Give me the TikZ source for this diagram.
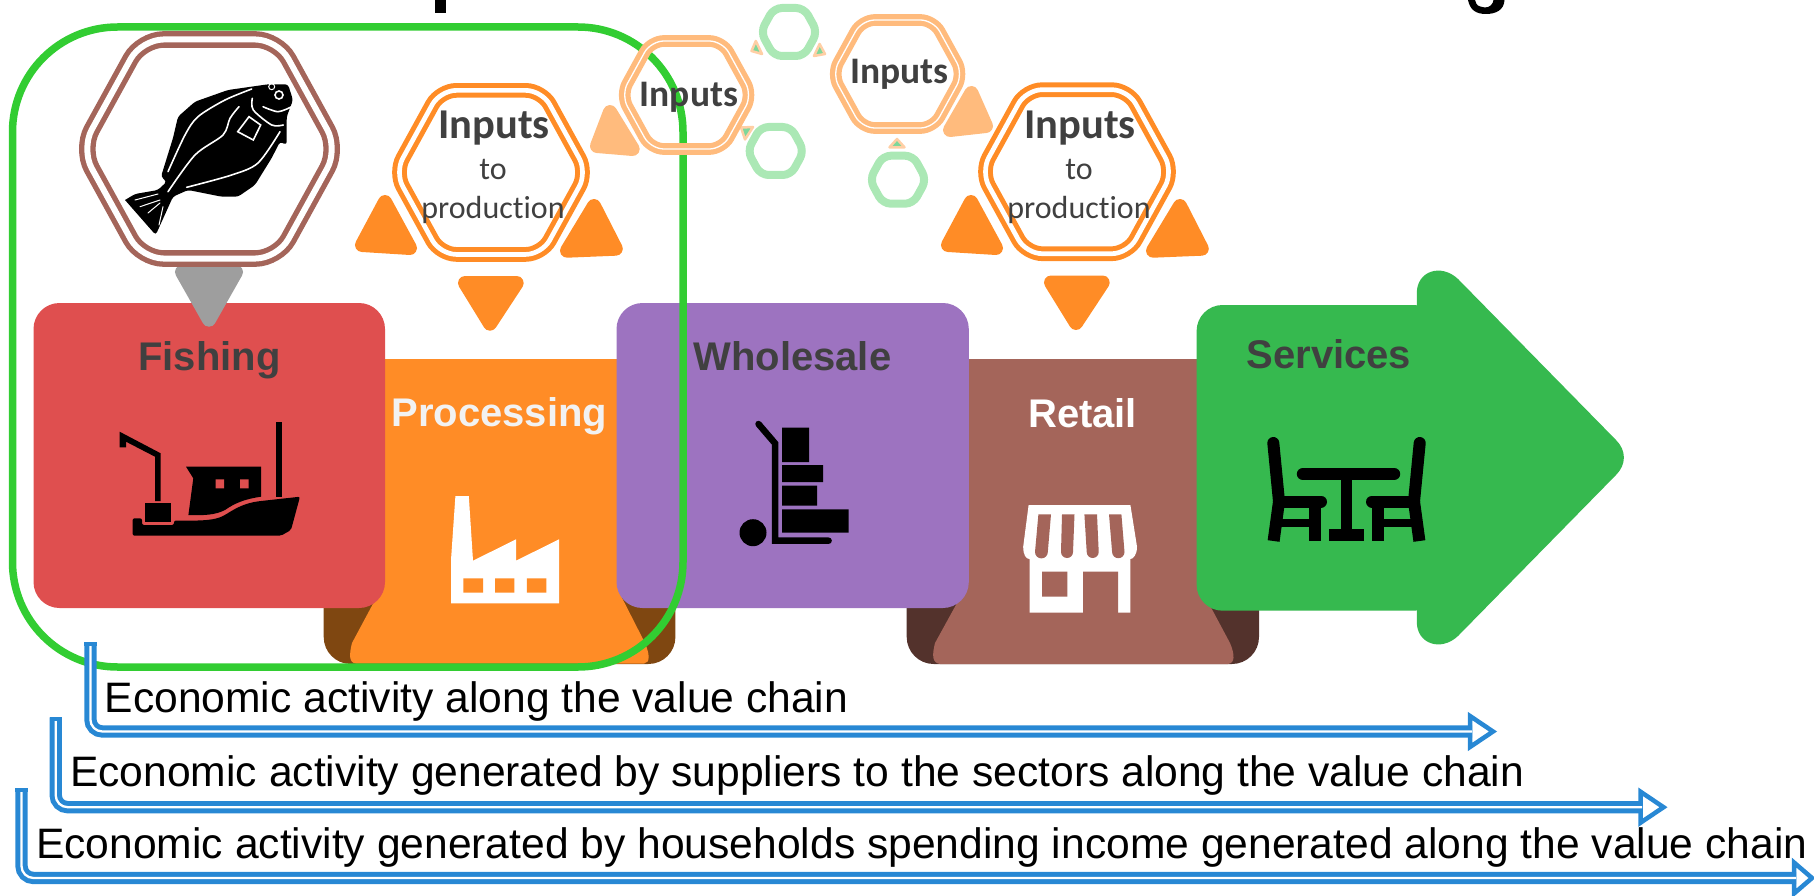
\documentclass[tikz,border=0pt]{standalone}
\usepackage{fontspec}
\setmainfont{Liberation Sans}
\newfontfamily\calfont[Ligatures=NoCommon]{Carlito}
\definecolor{cRed}{RGB}{223,79,79}
\definecolor{cOrange}{RGB}{255,140,38}
\definecolor{cLightOrange}{RGB}{255,187,125}
\definecolor{cPurple}{RGB}{157,115,192}
\definecolor{cBrown}{RGB}{164,101,90}
\definecolor{cDarkOrange}{RGB}{127,71,17}
\definecolor{cDarkBrown}{RGB}{83,50,44}
\definecolor{cGreen}{RGB}{54,185,79}
\definecolor{cFrame}{RGB}{50,205,50}
\definecolor{cLightGreen}{RGB}{171,232,181}
\definecolor{cSmallTri}{RGB}{127,215,154}
\definecolor{cTriEdge}{RGB}{255,207,165}
\definecolor{cBlue}{RGB}{40,136,212}
\definecolor{cText}{RGB}{64,64,64}
\definecolor{cPale}{RGB}{242,242,242}
\definecolor{cGrey}{RGB}{158,158,158}
\newcommand\rhex[6]{\draw[#6,rounded corners=#5]
 ({#1-(#3)},{#2}) -- ({#1-(#3)+0.55*(#4)},{#2-(#4)}) -- ({#1+(#3)-0.55*(#4)},{#2-(#4)}) -- ({#1+(#3)},{#2}) -- ({#1+(#3)-0.55*(#4)},{#2+(#4)}) -- ({#1-(#3)+0.55*(#4)},{#2+(#4)}) -- cycle;}
\newcommand\rtri[4]{\filldraw[#4,line width=14pt,line join=round] #1 -- #2 -- #3 -- cycle;}
\tikzset{
 x=1pt,y=-1pt,
 hexBrown/.style={draw=cBrown,line width=5.3pt,double=white,double distance=6pt},
 hexOrange/.style={draw=cOrange,line width=5pt,double=white,double distance=4.7pt},
 hexLight/.style={draw=cLightOrange,line width=5.2pt,double=white,double distance=1.3pt},
 hexGreen/.style={draw=cLightGreen,line width=8pt},
 smallTri/.style={draw=cTriEdge,fill=cSmallTri,line width=2.5pt,line join=round},
 headLab/.style={font=\fontsize{40}{44}\selectfont\bfseries,anchor=base,inner sep=0pt,text=cText},
 paleLab/.style={headLab,text=cPale},
 whiteLab/.style={headLab,text=white},
 bigIn/.style={font=\calfont\fontsize{42.5}{46}\selectfont\bfseries,anchor=base,inner sep=0pt,text=cText},
 smallIn/.style={font=\calfont\fontsize{37.5}{42}\selectfont\bfseries,anchor=base,inner sep=0pt,text=cText},
 thinIn/.style={font=\calfont\fontsize{32}{36}\selectfont,anchor=base,inner sep=0pt,text=cText},
 chainText/.style={font=\fontsize{42.6}{46}\selectfont,anchor=base west,inner sep=0pt,text=black},
 flowArrow/.style={draw=cBlue,line width=5pt,double=white,double distance=2.3pt,rounded corners=12pt},
 flowHead/.style={draw=cBlue,fill=white,line width=4.5pt,miter limit=10},
 frameBox/.style={draw=cFrame,line width=7.5pt,rounded corners=105pt},
 fishLine/.style={draw=white,line width=1.6pt,line cap=round},
 iconLine/.style={draw=black,line width=12pt,line cap=round},
 iconButt/.style={draw=black,line width=12pt,line cap=butt},
}
\begin{document}
\begin{tikzpicture}
\useasboundingbox (0,0) rectangle (1814,896);
\clip (0,0) rectangle (1814,896);
% title remnants
\fill[black] (435,0) rectangle (446,12.7);
\fill[black] (1468,0) -- (1475,0) .. controls (1477,6) .. (1485,7.5) .. controls (1490,7.5) and (1493,4) .. (1493.5,0) -- (1504.5,0) .. controls (1504,10) and (1496,14) .. (1486,14) .. controls (1476,14) and (1470,10) .. (1468,0) -- cycle;
% shadows under sector shapes
\fill[cDarkOrange,rounded corners=27pt] (323.7,560) rectangle (675.4,664);
\fill[cDarkBrown,rounded corners=27pt] (906.7,560) rectangle (1259,664);
% Processing shape
\fill[cOrange] (370,359) -- (625,359) -- (618,590) -- (645,643) .. controls (650,655) and (650,663) .. (644,663.5) -- (356,663.5) .. controls (349,663) and (349,655) .. (352,643) -- (375,600) -- cycle;
% Retail shape
\fill[cBrown] (950,359) -- (1205,359) -- (1207,600) -- (1230,643) .. controls (1235,655) and (1235,663) .. (1228,664) -- (940,664) .. controls (932,663) and (932,655) .. (935,643) -- (957,603) -- cycle;
% boxes
\fill[cRed,rounded corners=26pt] (33.5,303) rectangle (385,608);
\fill[cPurple,rounded corners=26pt] (616.5,303) rectangle (968.8,608);
% services arrow
\fill[cGreen,rounded corners=26pt] (1196.6,305) rectangle (1440,610.7);
\fill[cGreen] (1416.8,293) .. controls (1416.8,271) and (1441,263) .. (1458,279) -- (1616,440) .. controls (1626.5,450.5) and (1626.5,464.5) .. (1616,475) -- (1458,636) .. controls (1441,652) and (1416.8,644) .. (1416.8,622) -- cycle;
% orange triangles
\rtri{(385,202)}{(362,245)}{(410,248)}{cOrange}
\rtri{(594,206)}{(567,250.7)}{(615.8,248.7)}{cOrange}
\rtri{(465,283)}{(516.7,283)}{(490,323.7)}{cOrange}
\rtri{(971,202)}{(948,245)}{(996,248)}{cOrange}
\rtri{(1180,206)}{(1153,250.7)}{(1201.8,248.7)}{cOrange}
\rtri{(1051,282.5)}{(1102.7,282.5)}{(1076,323)}{cOrange}
\rtri{(182,272)}{(236,272)}{(209,319.7)}{cGrey}
\rtri{(610,112)}{(597,146)}{(632.7,149)}{cLightOrange}
\rtri{(971.4,93)}{(950,130)}{(986,126)}{cLightOrange}
% small triangles
\filldraw[smallTri] (755.8,41) -- (751.5,51) -- (762,54) -- cycle;
\filldraw[smallTri] (819.6,44) -- (825,54) -- (814,56) -- cycle;
\filldraw[smallTri] (741,127.5) -- (753,127) -- (745,139.5) -- cycle;
\filldraw[smallTri] (897,139) -- (889.5,147.3) -- (904.5,147.3) -- cycle;
% hexagons
\rhex{209.5}{149}{128.4}{109.5}{22pt}{hexBrown}
\rhex{491}{172.4}{96}{82}{16pt}{hexOrange}
\rhex{1077}{171.7}{96}{82}{16pt}{hexOrange}
\rhex{789}{32}{28.3}{24}{8pt}{hexGreen}
\rhex{775.7}{151}{28.3}{24}{8pt}{hexGreen}
\rhex{898}{179.7}{28.3}{24}{8pt}{hexGreen}
% fish
\fill[black,rounded corners=3pt] (268,84.3) -- (288,84.3) -- (293,100) -- (286.7,116.7) -- (286.7,145) -- (280,141.7) -- (271.7,158) -- (255,185) -- (238,196.7) -- (221.7,196.7) -- (188,190) -- (173,196.7) -- (155.7,235) [sharp corners] -- (125,200) [rounded corners=3pt] -- (135,194) -- (158,190) -- (166.7,181.7) -- (161,176.7) -- (173,138) -- (178,116.7) -- (195,101.7) -- (228,90) -- cycle;
\draw[fishLine] plot[smooth] coordinates {(168,171.7) (185,135) (198,116.7) (225,100) (251.7,89)};
\draw[fishLine] plot[smooth] coordinates {(168,191.7) (195,155) (223,135) (230,118.3) (239,106.7)};
\draw[fishLine] plot[smooth] coordinates {(186.7,187.3) (231.7,175) (258,163) (280,131.7)};
\draw[fishLine] plot[smooth] coordinates {(252.3,98.3) (253.3,110) (271.7,125) (283.3,125)};
\draw[fishLine] plot[smooth] coordinates {(263,106.7) (278,111.7) (291.7,106.7)};
\draw[fishLine] (249,116.7) -- (260.7,125) -- (253.3,140) -- (237.7,131.7) -- cycle;
\draw[white,line width=1.6pt] (279,95) circle[radius=4pt];
\draw[white,line width=1pt] (271.7,86.7) circle[radius=3pt];
\draw[fishLine,line width=1pt] (135,200) -- (158,194) (140,206.7) -- (160,200) (148,213) -- (160,203) (159,225) -- (163,206.7);
% ship
\fill[black,rounded corners=2pt] (132.6,518.3) -- (132.6,535.7) -- (281,535.7) -- (291,530) -- (300,496.7) -- (261,501) .. controls (245,503) and (236,508) .. (225,515) .. controls (215,520) and (205,521) .. (174,520.5) -- (174,525) -- (142,525) -- (142,518.3) -- cycle;
\fill[black] (186,466.7) -- (261,466.7) -- (261,496.7) .. controls (245,499) and (235,503) .. (225,510) .. controls (215,515) and (205,515.5) .. (188.4,515) -- (193.3,478.3) -- cycle;
\fill[cRed] (215.6,479.3) rectangle (224,488.3) (240,479.3) rectangle (248.7,488.3);
\fill[black] (145,503.3) rectangle (171.4,521.7);
\fill[black] (119.6,431.7) -- (160.7,453.3) -- (160.7,501) -- (155,501) -- (155,456.7) -- (126,441.7) -- (126,447.3) -- (119.6,447.3) -- cycle;
\fill[black] (276,422.3) rectangle (282,496.7);
% factory
\fill[white] (455.4,496) -- (468.8,496) -- (473,560.7) -- (516,539.3) -- (516,560.7) -- (559,539.3) -- (559,603.3) -- (451,603.3) -- (451,560) -- cycle;
\fill[cOrange] (463.4,578.3) rectangle (483,592.7) (495,578.3) rectangle (514.3,592.7) (526.8,578.3) rectangle (546.4,592.7);
% trolley
\fill[black] (782.1,427.7) rectangle (809,462) (782.1,465) rectangle (823.2,482) (782.1,485.7) rectangle (817,505.7) (782.1,509.3) rectangle (848.7,532.7);
\draw[black,line width=6.5pt,line cap=round,line join=miter] (758.5,424) -- (775,443.3) -- (775,540.7) -- (828.6,540.7);
\fill[black] (753,532.7) ellipse[x radius=13.5pt,y radius=13.5pt];
% store
\fill[white] (1028.6,505) -- (1130.4,505) -- (1137,546.7) .. controls (1137,555) and (1133,559) .. (1130.4,559) -- (1130.4,612.7) -- (1029.5,612.7) -- (1029.5,559) .. controls (1026,559) and (1023.2,555) .. (1023.2,546.7) -- cycle;
\fill[cBrown] (1038.4,514.3) -- (1051,514.3) -- (1047.8,552) arc[start angle=0,end angle=180,x radius=6.4pt,y radius=-6.4pt] -- cycle;
\fill[cBrown] (1062,514.3) -- (1074.5,514.3) -- (1073,552) arc[start angle=0,end angle=180,x radius=6pt,y radius=-6pt] -- cycle;
\fill[cBrown] (1084.4,514.3) -- (1097,514.3) -- (1098.7,552) arc[start angle=0,end angle=180,x radius=6pt,y radius=-6pt] -- cycle;
\fill[cBrown] (1109,514.3) -- (1121.4,514.3) -- (1124.5,552) arc[start angle=0,end angle=180,x radius=6.2pt,y radius=-6.2pt] -- cycle;
\fill[cBrown] (1083,571.7) rectangle (1118,614) (1042,571.7) rectangle (1067.4,596.7);
% table and chairs
\draw[iconLine] (1273.3,443) -- (1279,501.5);
\draw[iconButt] (1279,501.5) -- (1273.6,541);
\draw[iconLine] (1279,501.5) -- (1321,501.5);
\draw[iconButt] (1315,505) -- (1315,541);
\fill[black] (1281,519.3) rectangle (1310,527.3);
\draw[iconLine] (1419.7,443) -- (1414,501.5);
\draw[iconButt] (1414,501.5) -- (1419.4,541);
\draw[iconLine] (1414,501.5) -- (1372,501.5);
\draw[iconButt] (1378,505) -- (1378,541);
\fill[black] (1383,519.3) rectangle (1412,527.3);
\draw[iconLine,line width=12.4pt] (1303,474) -- (1394,474);
\fill[black] (1340.6,478) rectangle (1352,532);
\fill[black] (1329,529.3) rectangle (1364.3,541);
% labels
\node[headLab] (fishing) at (209.4,370) {Fishing};
\node[paleLab] (processing) at (499.4,426.7) {Processing};
\node[headLab] (wholesale) at (792.4,370) {Wholesale};
\node[whiteLab] (retail) at (1082.6,427) {Retail};
\node[headLab] (services) at (1328.9,368) {Services};
% value-chain frame
\draw[frameBox] (12.5,27) rectangle (683,667);
% pale hexagons above the frame
\rhex{686.6}{95}{65.5}{54}{13pt}{hexLight}
\rhex{897.6}{74}{65.5}{54}{13pt}{hexLight}
% inputs text
\node[bigIn] (in1) at (494,138.3) {Inputs};
\node[thinIn] (to1) at (493,180) {to};
\node[thinIn] (pr1) at (493,218.3) {production};
\node[bigIn] (in2) at (1080,138.3) {Inputs};
\node[thinIn] (to2) at (1079,180) {to};
\node[thinIn] (pr2) at (1079,218.3) {production};
\node[smallIn] (in3) at (689,106.7) {Inputs};
\node[smallIn] (in4) at (899.5,83.3) {Inputs};
% flow arrows
\coordinate (s1) at (90.4,642); \coordinate (e1) at (1472,731.5);
\coordinate (s2) at (55.7,717.3); \coordinate (e2) at (1642,807.2);
\coordinate (s3) at (21.5,788.3); \coordinate (e3) at (1796,878);
\draw[flowHead] (1470,716) -- (1493,731.5) -- (1470,747) -- cycle;
\draw[flowHead] (1640.5,791.7) -- (1663.5,807.2) -- (1640.5,822.7) -- cycle;
\draw[flowHead] (1794,862.5) -- (1812,878) -- (1794,893.5) -- cycle;
\draw[flowArrow] (s1) |- (e1);
\draw[flowArrow] (s2) |- (e2);
\draw[flowArrow] (s3) |- (e3);
\draw[cBlue,line width=12.3pt] (s1) -- ++(0,4);
\draw[cBlue,line width=12.3pt] (s2) -- ++(0,4);
\draw[cBlue,line width=12.3pt] (s3) -- ++(0,4);
\node[chainText] (t1) at (104.5,712.7) {Economic activity along the value chain};
\node[chainText] (t2) at (70,786.7) {Economic activity generated by suppliers to the sectors along the value chain};
\node[chainText] (t3) at (36,858.3) {Economic activity generated by households spending income generated along the value chain};
\end{tikzpicture}
\end{document}
